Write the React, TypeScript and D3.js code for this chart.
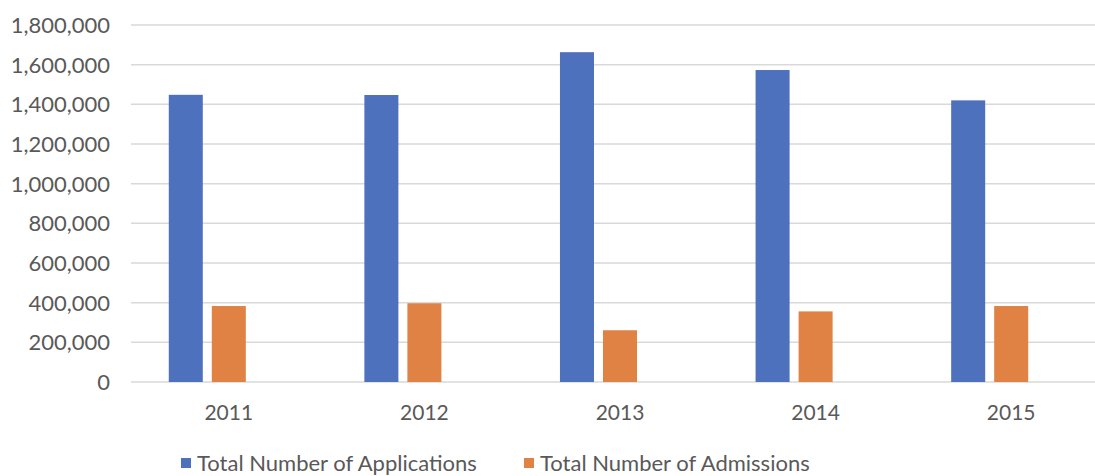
import React from 'react';
import * as d3 from 'd3';

const years = ['2011', '2012', '2013', '2014', '2015'];
const applications = [1448000, 1447000, 1663000, 1573000, 1420000];
const admissions = [383000, 397000, 261000, 356000, 383000];
const seriesNames = ['Total Number of Applications', 'Total Number of Admissions'];
const seriesColors = ['#4e71be', '#e08243'];
const yTicks = [0, 200000, 400000, 600000, 800000, 1000000, 1200000, 1400000, 1600000, 1800000];

const W = 1095;
const H = 476;
const FONT = 'Lato, "Open Sans", sans-serif';

const App: React.FC = () => {
  const plot = { left: 131, right: 1109, top: 25, bottom: 382 };

  const x = d3.scaleBand<string>().domain(years).range([plot.left, plot.right]).padding(0);
  // three slots per category (Excel layout), only the first two hold data
  const xInner = d3
    .scaleBand<number>()
    .domain([0, 1, 2])
    .range([0, x.bandwidth()])
    .paddingInner(0.209)
    .paddingOuter(0.878);
  const y = d3.scaleLinear().domain([0, 1800000]).range([plot.bottom, plot.top]);
  const fmt = d3.format(',');

  const series = [applications, admissions];

  return (
    <svg width={W} height={H} style={{ position: 'absolute', left: 0, top: 0, background: '#fff' }}>
      <rect width={W} height={H} fill="#fff" />
      {yTicks.map((t) => (
        <g key={t}>
          <line x1={plot.left} x2={plot.right} y1={y(t)} y2={y(t)} stroke="#d9d9d9" strokeWidth={1.5} />
          <text
            x={110}
            y={y(t)}
            dy="0.36em"
            textAnchor="end"
            fontFamily={FONT}
            fontSize={22}
            fill="#595959"
          >
            {fmt(t)}
          </text>
        </g>
      ))}
      {series.map((vals, si) =>
        vals.map((v, i) => (
          <rect
            key={`${si}-${i}`}
            x={(x(years[i]) ?? 0) + (xInner(si) ?? 0)}
            y={y(v)}
            width={xInner.bandwidth()}
            height={y(0) - y(v)}
            fill={seriesColors[si]}
          />
        ))
      )}
      {years.map((yr) => (
        <text
          key={yr}
          x={(x(yr) ?? 0) + x.bandwidth() / 2}
          y={412}
          dy="0.36em"
          textAnchor="middle"
          fontFamily={FONT}
          fontSize={21}
          fill="#595959"
        >
          {yr}
        </text>
      ))}
      {seriesNames.map((name, i) => {
        const lx = [181, 524][i];
        return (
          <g key={name}>
            <rect x={lx} y={458} width={10} height={10} fill={seriesColors[i]} />
            <text x={lx + 16} y={463} dy="0.36em" fontFamily={FONT} fontSize={22} fill="#595959">
              {name}
            </text>
          </g>
        );
      })}
    </svg>
  );
};

export default App;
